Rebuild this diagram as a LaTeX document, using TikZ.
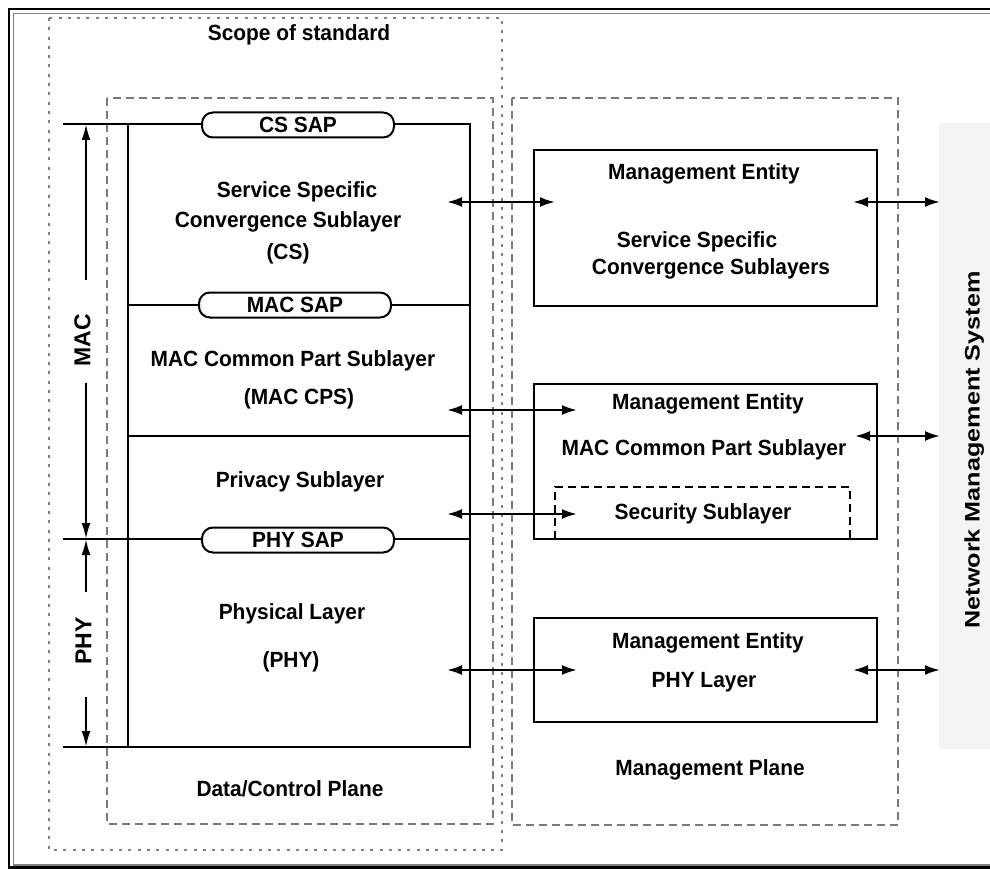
\documentclass[tikz,border=0pt]{standalone}
\usepackage{fontspec}
\setmainfont{Liberation Sans}
\newfontfamily\lblfont{Liberation Sans}[FakeStretch=0.95]
\newfontfamily\widefont{Liberation Sans}[FakeStretch=1.2]
\usetikzlibrary{arrows.meta}
\definecolor{dashgray}{HTML}{7A7A7A}
\definecolor{dotgray}{HTML}{808080}
\definecolor{bargray}{HTML}{F4F4F4}
\tikzset{
  lbl/.style={font=\lblfont\bfseries\fontsize{22}{26}\selectfont, inner sep=0pt, text height=15.8pt, text depth=0pt},
  sidelbl/.style={font=\widefont\bfseries\fontsize{21}{24}\selectfont, inner sep=0pt, text height=15pt, text depth=0pt, rotate=90},
  dimlbl/.style={font=\bfseries\fontsize{23}{26}\selectfont, inner sep=0pt, text height=16.5pt, text depth=0pt, rotate=90},
  mbox/.style={draw, line width=2.3pt, inner sep=0pt},
  layerline/.style={line width=2.2pt},
  sap/.style={lbl, draw, line width=2pt, fill=white, rounded corners=11pt, minimum width=192pt, minimum height=25pt},
  dimarrow/.style={line width=2.2pt, -{Latex[length=16pt,width=9pt]}},
  biarrow/.style={line width=2.2pt, {Latex[length=15pt,width=10pt]}-{Latex[length=15pt,width=10pt]}},
  plane/.style={draw=dashgray, dash pattern=on 8pt off 5pt, line width=1.6pt},
  scopebox/.style={draw=dotgray, dash pattern=on 3pt off 6.3pt, line width=2.6pt},
  secbox/.style={draw, dash pattern=on 8pt off 5pt, line width=2pt},
}
\begin{document}
\begin{tikzpicture}[x=1pt,y=-1pt]
\useasboundingbox (0,0) rectangle (990,869);
% outer frame
\draw[line width=2.4pt] (990,9) -- (9,9) -- (9,867.5) -- (990,867.5);
\draw[gray, line width=1.2pt] (990,13.5) -- (13.5,13.5) -- (13.5,865) -- (990,865);

% network management system bar
\node[fill=bargray, minimum width=51pt, minimum height=626pt, inner sep=0pt] (nmsbar) at (964.5,436) {};
\node[sidelbl] (nmstxt) at (972,450) {Network Management System};

% scope of standard
\draw[scopebox] (49,18) rectangle (502,850);
\node[lbl] (scope) at (299,33) {Scope of standard};

% planes
\draw[plane] (107,98) rectangle (493,824);
\draw[plane] (512,98) rectangle (898,825);
\node[lbl] (dcp) at (290,789) {Data/Control Plane};
\node[lbl] (mp) at (710,768) {Management Plane};

% layer stack
\coordinate (stTL) at (128,124);
\coordinate (stTR) at (470,124);
\coordinate (stBL) at (128,747);
\coordinate (stBR) at (470,747);
\coordinate (topext) at (63,124);
\coordinate (botext) at (63,747);
\coordinate (macL) at (128,305);
\coordinate (macR) at (470,305);
\coordinate (privL) at (128,436);
\coordinate (privR) at (470,436);
\coordinate (phyext) at (63,539);
\coordinate (phyR) at (470,539);
\draw[layerline] (topext) -- (stTR) -- (stBR) -- (botext);
\draw[layerline] (stTL) -- (stBL);
\draw[layerline] (macL) -- (macR);
\draw[layerline] (privL) -- (privR);
\draw[layerline] (phyext) -- (phyR);

\node[sap] (cssap) at (298,125) {CS SAP};
\node[sap] (macsap) at (295,305) {MAC SAP};
\node[sap] (physap) at (298,540) {PHY SAP};

\node[lbl] (cs1) at (297,190) {Service Specific};
\node[lbl] (cs2) at (288,220) {Convergence Sublayer};
\node[lbl] (cs3) at (288,252) {(CS)};
\node[lbl] (cps1) at (293,359) {MAC Common Part Sublayer};
\node[lbl] (cps2) at (299,397) {(MAC CPS)};
\node[lbl] (priv) at (300,480) {Privacy Sublayer};
\node[lbl] (phy1) at (292,612) {Physical Layer};
\node[lbl] (phy2) at (291,660) {(PHY)};

% dimension arrows
\coordinate (macA) at (86,280);
\coordinate (macTop) at (86,124);
\coordinate (macB) at (86,383);
\coordinate (macBot) at (86,539);
\coordinate (phyA) at (86,592);
\coordinate (phyB) at (86,697);
\coordinate (phyBot) at (86,747);
\draw[dimarrow] (macA) -- (macTop);
\draw[dimarrow] (macB) -- (macBot);
\draw[dimarrow] (phyA) -- (macBot);
\draw[dimarrow] (phyB) -- (phyBot);
\node[dimlbl] (maclbl) at (82,340) {MAC};
\node[dimlbl] (phylbl) at (83,641) {PHY};

% management entities
\node[mbox, minimum width=343pt, minimum height=156pt] (me1) at (705.5,228) {};
\node[mbox, minimum width=343pt, minimum height=155pt] (me2) at (705.5,461.5) {};
\node[mbox, minimum width=343pt, minimum height=104pt] (me3) at (705.5,670) {};
\draw[secbox] (555,539) -- (555,487) -- (850,487) -- (850,539);

\node[lbl] (me1a) at (704,172) {Management Entity};
\node[lbl] (me1b) at (697,240) {Service Specific};
\node[lbl] (me1c) at (711,267) {Convergence Sublayers};
\node[lbl] (me2a) at (708,402) {Management Entity};
\node[lbl] (me2b) at (704,448) {MAC Common Part Sublayer};
\node[lbl] (sec) at (703,512) {Security Sublayer};
\node[lbl] (me3a) at (708,641) {Management Entity};
\node[lbl] (me3b) at (704,680) {PHY Layer};

% connectors
\coordinate (a1l) at (447,202);
\coordinate (a1r) at (555,202);
\coordinate (a2l) at (447,410);
\coordinate (a2r) at (577,410);
\coordinate (a3l) at (447,514);
\coordinate (a3r) at (577,514);
\coordinate (a4l) at (447,670);
\coordinate (a4r) at (577,670);
\coordinate (b1l) at (853,202);
\coordinate (b1r) at (940,202);
\coordinate (b2l) at (855,436);
\coordinate (b2r) at (940,436);
\coordinate (b3l) at (853,670);
\coordinate (b3r) at (940,670);
\draw[biarrow] (a1l) -- (a1r);
\draw[biarrow] (a2l) -- (a2r);
\draw[biarrow] (a3l) -- (a3r);
\draw[biarrow] (a4l) -- (a4r);
\draw[biarrow] (b1l) -- (b1r);
\draw[biarrow] (b2l) -- (b2r);
\draw[biarrow] (b3l) -- (b3r);
\end{tikzpicture}
\end{document}
